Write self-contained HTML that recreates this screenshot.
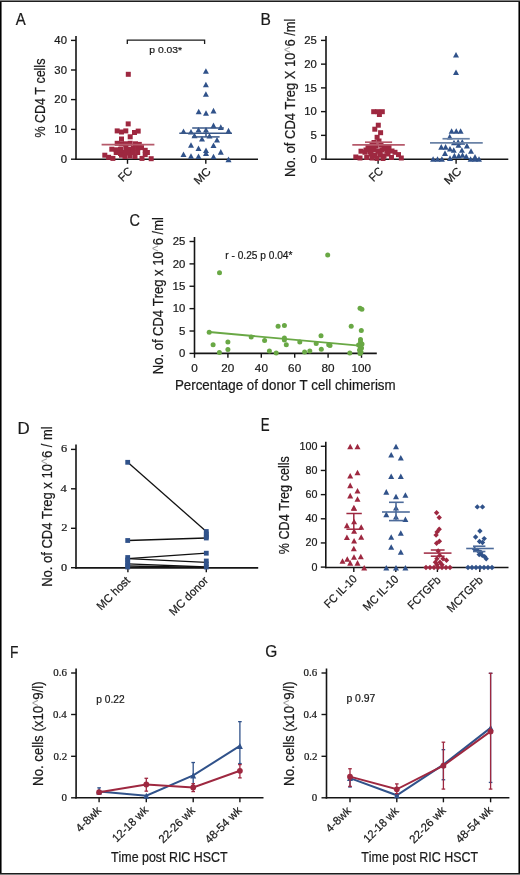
<!DOCTYPE html>
<html><head><meta charset="utf-8"><style>
html,body{margin:0;padding:0;background:#fff;}
body{width:520px;height:875px;overflow:hidden;position:relative;}
svg{position:absolute;left:0;top:0;display:block;font-family:"Liberation Sans", sans-serif;will-change:transform;}
text{font-kerning:none;stroke:#1a1a1a;stroke-width:0.22px;}
</style></head><body>
<svg width="520" height="875" viewBox="0 0 520 875">
<rect x="0" y="0" width="520" height="875" fill="#fff"/>
<text transform="translate(15.77,24.90) scale(0.8632,1)" font-family='"Liberation Sans", sans-serif' font-size="17.30" fill="#1a1a1a">A</text>
<text transform="translate(260.52,24.90) scale(0.9092,1)" font-family='"Liberation Sans", sans-serif' font-size="17.15" fill="#1a1a1a">B</text>
<text transform="translate(129.56,225.75) scale(0.8560,1)" font-family='"Liberation Sans", sans-serif' font-size="16.97" fill="#1a1a1a">C</text>
<text transform="translate(17.52,433.80) scale(0.9928,1)" font-family='"Liberation Sans", sans-serif' font-size="17.01" fill="#1a1a1a">D</text>
<text transform="translate(260.81,430.90) scale(0.7616,1)" font-family='"Liberation Sans", sans-serif' font-size="17.44" fill="#1a1a1a">E</text>
<text transform="translate(10.12,657.60) scale(0.7984,1)" font-family='"Liberation Sans", sans-serif' font-size="17.30" fill="#1a1a1a">F</text>
<text transform="translate(265.32,657.45) scale(0.9194,1)" font-family='"Liberation Sans", sans-serif' font-size="16.83" fill="#1a1a1a">G</text>
<line x1="76.00" y1="36.00" x2="76.00" y2="160.00" stroke="#151515" stroke-width="1.6"/>
<line x1="71.00" y1="40.40" x2="76.00" y2="40.40" stroke="#151515" stroke-width="1.4"/>
<text transform="translate(54.37,44.14) scale(1.0000,1)" font-family='"Liberation Sans", sans-serif' font-size="11.30" fill="#1a1a1a">40</text>
<line x1="71.00" y1="70.00" x2="76.00" y2="70.00" stroke="#151515" stroke-width="1.4"/>
<text transform="translate(54.37,73.74) scale(1.0000,1)" font-family='"Liberation Sans", sans-serif' font-size="11.30" fill="#1a1a1a">30</text>
<line x1="71.00" y1="99.60" x2="76.00" y2="99.60" stroke="#151515" stroke-width="1.4"/>
<text transform="translate(54.37,103.34) scale(1.0000,1)" font-family='"Liberation Sans", sans-serif' font-size="11.30" fill="#1a1a1a">20</text>
<line x1="71.00" y1="129.40" x2="76.00" y2="129.40" stroke="#151515" stroke-width="1.4"/>
<text transform="translate(54.37,133.14) scale(1.0000,1)" font-family='"Liberation Sans", sans-serif' font-size="11.30" fill="#1a1a1a">10</text>
<line x1="71.00" y1="159.20" x2="76.00" y2="159.20" stroke="#151515" stroke-width="1.4"/>
<text transform="translate(60.66,162.94) scale(1.0000,1)" font-family='"Liberation Sans", sans-serif' font-size="11.30" fill="#1a1a1a">0</text>
<line x1="75.20" y1="159.20" x2="258.00" y2="159.20" stroke="#151515" stroke-width="1.6"/>
<line x1="127.50" y1="159.20" x2="127.50" y2="163.80" stroke="#151515" stroke-width="1.4"/>
<line x1="205.80" y1="159.20" x2="205.80" y2="163.80" stroke="#151515" stroke-width="1.4"/>
<text transform="translate(122.87,182.25) rotate(-45) scale(0.9549,1)" font-family='"Liberation Sans", sans-serif' font-size="11.50" fill="#1a1a1a">FC</text>
<text transform="translate(198.49,185.28) rotate(-45) scale(1.0380,1)" font-family='"Liberation Sans", sans-serif' font-size="11.50" fill="#1a1a1a">MC</text>
<path d="M127.3,44 V40.2 H204.6 V44" fill="none" stroke="#1a1a1a" stroke-width="1.3"/>
<text transform="translate(149.33,53.20) scale(1.0795,1)" font-family='"Liberation Sans", sans-serif' font-size="9.60" fill="#1a1a1a">p 0.03*</text>
<text transform="translate(44.80,137.54) rotate(-90) scale(0.8373,1)" font-family='"Liberation Sans", sans-serif' font-size="14.89" fill="#1a1a1a">% CD4 T cells</text>
<rect x="125.80" y="71.80" width="5" height="5" fill="#9e2840"/>
<rect x="125.70" y="121.40" width="5" height="5" fill="#9e2840"/>
<rect x="114.70" y="128.40" width="5" height="5" fill="#9e2840"/>
<rect x="119.00" y="129.50" width="5" height="5" fill="#9e2840"/>
<rect x="123.30" y="128.40" width="5" height="5" fill="#9e2840"/>
<rect x="132.00" y="130.00" width="5" height="5" fill="#9e2840"/>
<rect x="135.70" y="128.60" width="5" height="5" fill="#9e2840"/>
<rect x="127.70" y="134.30" width="5" height="5" fill="#9e2840"/>
<rect x="119.00" y="136.50" width="5" height="5" fill="#9e2840"/>
<rect x="114.70" y="140.80" width="5" height="5" fill="#9e2840"/>
<rect x="119.00" y="141.30" width="5" height="5" fill="#9e2840"/>
<rect x="123.30" y="141.30" width="5" height="5" fill="#9e2840"/>
<rect x="127.70" y="140.80" width="5" height="5" fill="#9e2840"/>
<rect x="133.00" y="141.30" width="5" height="5" fill="#9e2840"/>
<rect x="136.80" y="141.90" width="5" height="5" fill="#9e2840"/>
<rect x="109.30" y="146.70" width="5" height="5" fill="#9e2840"/>
<rect x="113.70" y="147.30" width="5" height="5" fill="#9e2840"/>
<rect x="118.00" y="146.70" width="5" height="5" fill="#9e2840"/>
<rect x="123.30" y="145.10" width="5" height="5" fill="#9e2840"/>
<rect x="126.60" y="146.70" width="5" height="5" fill="#9e2840"/>
<rect x="130.90" y="145.70" width="5" height="5" fill="#9e2840"/>
<rect x="135.20" y="145.70" width="5" height="5" fill="#9e2840"/>
<rect x="139.00" y="145.10" width="5" height="5" fill="#9e2840"/>
<rect x="142.70" y="147.80" width="5" height="5" fill="#9e2840"/>
<rect x="144.90" y="150.00" width="5" height="5" fill="#9e2840"/>
<rect x="113.70" y="150.00" width="5" height="5" fill="#9e2840"/>
<rect x="118.00" y="151.00" width="5" height="5" fill="#9e2840"/>
<rect x="122.30" y="150.00" width="5" height="5" fill="#9e2840"/>
<rect x="126.60" y="150.50" width="5" height="5" fill="#9e2840"/>
<rect x="130.90" y="150.00" width="5" height="5" fill="#9e2840"/>
<rect x="135.20" y="150.00" width="5" height="5" fill="#9e2840"/>
<rect x="102.30" y="152.70" width="5" height="5" fill="#9e2840"/>
<rect x="106.10" y="154.80" width="5" height="5" fill="#9e2840"/>
<rect x="110.40" y="155.90" width="5" height="5" fill="#9e2840"/>
<rect x="119.00" y="152.70" width="5" height="5" fill="#9e2840"/>
<rect x="139.50" y="155.90" width="5" height="5" fill="#9e2840"/>
<rect x="148.70" y="156.20" width="5" height="5" fill="#9e2840"/>
<rect x="142.70" y="152.10" width="5" height="5" fill="#9e2840"/>
<rect x="122.50" y="154.00" width="5" height="5" fill="#9e2840"/>
<rect x="127.50" y="153.50" width="5" height="5" fill="#9e2840"/>
<rect x="132.50" y="154.00" width="5" height="5" fill="#9e2840"/>
<line x1="101.60" y1="144.70" x2="154.40" y2="144.70" stroke="#b65a6b" stroke-width="1.7"/>
<path d="M202.90,73.80L205.90,68.20L208.90,73.80Z" fill="#30528a"/>
<path d="M202.90,87.30L205.90,81.70L208.90,87.30Z" fill="#30528a"/>
<path d="M202.90,96.80L205.90,91.20L208.90,96.80Z" fill="#30528a"/>
<path d="M195.70,114.30L198.70,108.70L201.70,114.30Z" fill="#30528a"/>
<path d="M203.00,115.80L206.00,110.20L209.00,115.80Z" fill="#30528a"/>
<path d="M210.50,113.40L213.50,107.80L216.50,113.40Z" fill="#30528a"/>
<path d="M210.50,128.20L213.50,122.60L216.50,128.20Z" fill="#30528a"/>
<path d="M217.80,129.90L220.80,124.30L223.80,129.90Z" fill="#30528a"/>
<path d="M195.50,132.60L198.50,127.00L201.50,132.60Z" fill="#30528a"/>
<path d="M203.00,132.60L206.00,127.00L209.00,132.60Z" fill="#30528a"/>
<path d="M180.50,134.00L183.50,128.40L186.50,134.00Z" fill="#30528a"/>
<path d="M188.00,134.50L191.00,128.90L194.00,134.50Z" fill="#30528a"/>
<path d="M225.50,133.40L228.50,127.80L231.50,133.40Z" fill="#30528a"/>
<path d="M191.50,138.30L194.50,132.70L197.50,138.30Z" fill="#30528a"/>
<path d="M206.50,138.60L209.50,133.00L212.50,138.60Z" fill="#30528a"/>
<path d="M199.00,141.50L202.00,135.90L205.00,141.50Z" fill="#30528a"/>
<path d="M214.00,142.60L217.00,137.00L220.00,142.60Z" fill="#30528a"/>
<path d="M188.00,147.80L191.00,142.20L194.00,147.80Z" fill="#30528a"/>
<path d="M210.50,148.00L213.50,142.40L216.50,148.00Z" fill="#30528a"/>
<path d="M195.50,151.00L198.50,145.40L201.50,151.00Z" fill="#30528a"/>
<path d="M203.00,153.00L206.00,147.40L209.00,153.00Z" fill="#30528a"/>
<path d="M203.00,155.90L206.00,150.30L209.00,155.90Z" fill="#30528a"/>
<path d="M217.80,154.70L220.80,149.10L223.80,154.70Z" fill="#30528a"/>
<path d="M180.50,157.00L183.50,151.40L186.50,157.00Z" fill="#30528a"/>
<path d="M188.00,158.80L191.00,153.20L194.00,158.80Z" fill="#30528a"/>
<path d="M195.50,159.10L198.50,153.50L201.50,159.10Z" fill="#30528a"/>
<path d="M210.50,159.30L213.50,153.70L216.50,159.30Z" fill="#30528a"/>
<path d="M225.50,162.20L228.50,156.60L231.50,162.20Z" fill="#30528a"/>
<line x1="179.30" y1="133.30" x2="232.00" y2="133.30" stroke="#3a5888" stroke-width="1.6"/>
<line x1="192.20" y1="128.00" x2="223.90" y2="128.00" stroke="#3a5888" stroke-width="1.5"/>
<line x1="192.20" y1="136.90" x2="219.60" y2="136.90" stroke="#3a5888" stroke-width="1.5"/>
<line x1="206.00" y1="128.00" x2="206.00" y2="136.90" stroke="#3a5888" stroke-width="1.5"/>
<line x1="326.00" y1="36.00" x2="326.00" y2="160.00" stroke="#151515" stroke-width="1.6"/>
<line x1="321.00" y1="40.40" x2="326.00" y2="40.40" stroke="#151515" stroke-width="1.4"/>
<text transform="translate(304.31,44.14) scale(1.0000,1)" font-family='"Liberation Sans", sans-serif' font-size="11.30" fill="#1a1a1a">25</text>
<line x1="321.00" y1="64.14" x2="326.00" y2="64.14" stroke="#151515" stroke-width="1.4"/>
<text transform="translate(304.27,67.88) scale(1.0000,1)" font-family='"Liberation Sans", sans-serif' font-size="11.30" fill="#1a1a1a">20</text>
<line x1="321.00" y1="87.88" x2="326.00" y2="87.88" stroke="#151515" stroke-width="1.4"/>
<text transform="translate(304.13,91.62) scale(1.0000,1)" font-family='"Liberation Sans", sans-serif' font-size="11.47" fill="#1a1a1a">15</text>
<line x1="321.00" y1="111.62" x2="326.00" y2="111.62" stroke="#151515" stroke-width="1.4"/>
<text transform="translate(304.27,115.36) scale(1.0000,1)" font-family='"Liberation Sans", sans-serif' font-size="11.30" fill="#1a1a1a">10</text>
<line x1="321.00" y1="135.36" x2="326.00" y2="135.36" stroke="#151515" stroke-width="1.4"/>
<text transform="translate(310.50,139.10) scale(1.0000,1)" font-family='"Liberation Sans", sans-serif' font-size="11.47" fill="#1a1a1a">5</text>
<line x1="321.00" y1="159.10" x2="326.00" y2="159.10" stroke="#151515" stroke-width="1.4"/>
<text transform="translate(310.56,162.84) scale(1.0000,1)" font-family='"Liberation Sans", sans-serif' font-size="11.30" fill="#1a1a1a">0</text>
<line x1="325.20" y1="159.20" x2="508.30" y2="159.20" stroke="#151515" stroke-width="1.6"/>
<line x1="378.10" y1="159.20" x2="378.10" y2="163.80" stroke="#151515" stroke-width="1.4"/>
<line x1="456.10" y1="159.20" x2="456.10" y2="163.80" stroke="#151515" stroke-width="1.4"/>
<text transform="translate(373.50,182.27) rotate(-45) scale(0.9496,1)" font-family='"Liberation Sans", sans-serif' font-size="11.50" fill="#1a1a1a">FC</text>
<text transform="translate(448.75,185.37) rotate(-45) scale(1.0604,1)" font-family='"Liberation Sans", sans-serif' font-size="11.50" fill="#1a1a1a">MC</text>
<text transform="translate(294.90,177.06) rotate(-90) scale(0.8908,1)" font-family='"Liberation Sans", sans-serif' font-size="14.54" fill="#1a1a1a">No. of CD4 Treg X 10<tspan fill="#9a9a9a" style="stroke:none">^</tspan>6 /ml</text>
<rect x="371.20" y="109.20" width="5" height="5" fill="#9e2840"/>
<rect x="375.20" y="109.20" width="5" height="5" fill="#9e2840"/>
<rect x="379.80" y="109.20" width="5" height="5" fill="#9e2840"/>
<rect x="376.90" y="112.00" width="5" height="5" fill="#9e2840"/>
<rect x="375.80" y="122.70" width="5" height="5" fill="#9e2840"/>
<rect x="372.30" y="126.70" width="5" height="5" fill="#9e2840"/>
<rect x="378.10" y="130.20" width="5" height="5" fill="#9e2840"/>
<rect x="374.60" y="134.80" width="5" height="5" fill="#9e2840"/>
<rect x="376.50" y="138.50" width="5" height="5" fill="#9e2840"/>
<rect x="353.30" y="154.50" width="5" height="5" fill="#9e2840"/>
<rect x="358.50" y="148.70" width="5" height="5" fill="#9e2840"/>
<rect x="362.50" y="149.80" width="5" height="5" fill="#9e2840"/>
<rect x="366.00" y="146.30" width="5" height="5" fill="#9e2840"/>
<rect x="364.20" y="155.00" width="5" height="5" fill="#9e2840"/>
<rect x="392.50" y="149.80" width="5" height="5" fill="#9e2840"/>
<rect x="396.00" y="152.10" width="5" height="5" fill="#9e2840"/>
<rect x="398.80" y="155.50" width="5" height="5" fill="#9e2840"/>
<rect x="389.00" y="155.00" width="5" height="5" fill="#9e2840"/>
<rect x="384.40" y="148.70" width="5" height="5" fill="#9e2840"/>
<rect x="369.50" y="142.50" width="5" height="5" fill="#9e2840"/>
<rect x="373.50" y="143.50" width="5" height="5" fill="#9e2840"/>
<rect x="378.50" y="142.50" width="5" height="5" fill="#9e2840"/>
<rect x="382.50" y="144.50" width="5" height="5" fill="#9e2840"/>
<rect x="371.50" y="147.50" width="5" height="5" fill="#9e2840"/>
<rect x="375.50" y="148.50" width="5" height="5" fill="#9e2840"/>
<rect x="379.50" y="147.50" width="5" height="5" fill="#9e2840"/>
<rect x="368.50" y="151.50" width="5" height="5" fill="#9e2840"/>
<rect x="372.50" y="153.00" width="5" height="5" fill="#9e2840"/>
<rect x="377.50" y="152.50" width="5" height="5" fill="#9e2840"/>
<rect x="381.50" y="153.50" width="5" height="5" fill="#9e2840"/>
<rect x="385.50" y="151.50" width="5" height="5" fill="#9e2840"/>
<rect x="369.50" y="155.50" width="5" height="5" fill="#9e2840"/>
<rect x="374.50" y="156.00" width="5" height="5" fill="#9e2840"/>
<rect x="380.50" y="156.00" width="5" height="5" fill="#9e2840"/>
<rect x="357.50" y="155.50" width="5" height="5" fill="#9e2840"/>
<rect x="371.50" y="140.00" width="5" height="5" fill="#9e2840"/>
<rect x="386.50" y="144.50" width="5" height="5" fill="#9e2840"/>
<rect x="365.50" y="144.00" width="5" height="5" fill="#9e2840"/>
<rect x="369.50" y="145.50" width="5" height="5" fill="#9e2840"/>
<rect x="381.50" y="146.00" width="5" height="5" fill="#9e2840"/>
<rect x="385.50" y="147.50" width="5" height="5" fill="#9e2840"/>
<rect x="363.50" y="147.50" width="5" height="5" fill="#9e2840"/>
<rect x="367.50" y="149.50" width="5" height="5" fill="#9e2840"/>
<rect x="377.50" y="149.50" width="5" height="5" fill="#9e2840"/>
<rect x="389.50" y="148.50" width="5" height="5" fill="#9e2840"/>
<line x1="352.30" y1="144.80" x2="404.80" y2="144.80" stroke="#b65a6b" stroke-width="1.7"/>
<line x1="365.00" y1="142.20" x2="392.10" y2="142.20" stroke="#b65a6b" stroke-width="1.7"/>
<path d="M448.60,133.80L451.60,128.20L454.60,133.80Z" fill="#30528a"/>
<path d="M453.25,133.80L456.25,128.20L459.25,133.80Z" fill="#30528a"/>
<path d="M457.60,133.80L460.60,128.20L463.60,133.80Z" fill="#30528a"/>
<path d="M446.75,139.40L449.75,133.80L452.75,139.40Z" fill="#30528a"/>
<path d="M451.00,145.30L454.00,139.70L457.00,145.30Z" fill="#30528a"/>
<path d="M455.10,144.70L458.10,139.10L461.10,144.70Z" fill="#30528a"/>
<path d="M459.25,144.70L462.25,139.10L465.25,144.70Z" fill="#30528a"/>
<path d="M463.90,148.40L466.90,142.80L469.90,148.40Z" fill="#30528a"/>
<path d="M438.25,149.70L441.25,144.10L444.25,149.70Z" fill="#30528a"/>
<path d="M442.60,149.70L445.60,144.10L448.60,149.70Z" fill="#30528a"/>
<path d="M447.00,151.55L450.00,145.95L453.00,151.55Z" fill="#30528a"/>
<path d="M450.75,152.80L453.75,147.20L456.75,152.80Z" fill="#30528a"/>
<path d="M455.50,147.80L458.50,142.20L461.50,147.80Z" fill="#30528a"/>
<path d="M458.90,152.80L461.90,147.20L464.90,152.80Z" fill="#30528a"/>
<path d="M468.00,153.80L471.00,148.20L474.00,153.80Z" fill="#30528a"/>
<path d="M442.00,155.90L445.00,150.30L448.00,155.90Z" fill="#30528a"/>
<path d="M451.40,158.40L454.40,152.80L457.40,158.40Z" fill="#30528a"/>
<path d="M455.75,158.40L458.75,152.80L461.75,158.40Z" fill="#30528a"/>
<path d="M459.50,157.80L462.50,152.20L465.50,157.80Z" fill="#30528a"/>
<path d="M463.25,159.05L466.25,153.45L469.25,159.05Z" fill="#30528a"/>
<path d="M447.00,160.90L450.00,155.30L453.00,160.90Z" fill="#30528a"/>
<path d="M453.00,57.50L456.00,51.90L459.00,57.50Z" fill="#30528a"/>
<path d="M453.00,75.10L456.00,69.50L459.00,75.10Z" fill="#30528a"/>
<path d="M430.10,161.80L433.10,156.20L436.10,161.80Z" fill="#30528a"/>
<path d="M434.50,161.80L437.50,156.20L440.50,161.80Z" fill="#30528a"/>
<path d="M438.90,161.80L441.90,156.20L444.90,161.80Z" fill="#30528a"/>
<path d="M467.60,161.80L470.60,156.20L473.60,161.80Z" fill="#30528a"/>
<path d="M472.00,161.80L475.00,156.20L478.00,161.80Z" fill="#30528a"/>
<path d="M476.00,161.80L479.00,156.20L482.00,161.80Z" fill="#30528a"/>
<path d="M472.00,159.70L475.00,154.10L478.00,159.70Z" fill="#30528a"/>
<line x1="430.00" y1="142.90" x2="482.75" y2="142.90" stroke="#6a82a6" stroke-width="1.7"/>
<line x1="442.50" y1="138.75" x2="469.75" y2="138.75" stroke="#6a82a6" stroke-width="1.7"/>
<line x1="194.50" y1="237.00" x2="194.50" y2="354.20" stroke="#151515" stroke-width="1.6"/>
<line x1="189.50" y1="241.50" x2="194.50" y2="241.50" stroke="#151515" stroke-width="1.4"/>
<text transform="translate(172.71,245.24) scale(1.0000,1)" font-family='"Liberation Sans", sans-serif' font-size="11.30" fill="#1a1a1a">25</text>
<line x1="189.50" y1="263.88" x2="194.50" y2="263.88" stroke="#151515" stroke-width="1.4"/>
<text transform="translate(172.67,267.62) scale(1.0000,1)" font-family='"Liberation Sans", sans-serif' font-size="11.30" fill="#1a1a1a">20</text>
<line x1="189.50" y1="286.26" x2="194.50" y2="286.26" stroke="#151515" stroke-width="1.4"/>
<text transform="translate(172.53,290.00) scale(1.0000,1)" font-family='"Liberation Sans", sans-serif' font-size="11.47" fill="#1a1a1a">15</text>
<line x1="189.50" y1="308.64" x2="194.50" y2="308.64" stroke="#151515" stroke-width="1.4"/>
<text transform="translate(172.67,312.38) scale(1.0000,1)" font-family='"Liberation Sans", sans-serif' font-size="11.30" fill="#1a1a1a">10</text>
<line x1="189.50" y1="331.02" x2="194.50" y2="331.02" stroke="#151515" stroke-width="1.4"/>
<text transform="translate(178.90,334.76) scale(1.0000,1)" font-family='"Liberation Sans", sans-serif' font-size="11.47" fill="#1a1a1a">5</text>
<line x1="189.50" y1="353.40" x2="194.50" y2="353.40" stroke="#151515" stroke-width="1.4"/>
<text transform="translate(178.96,357.14) scale(1.0000,1)" font-family='"Liberation Sans", sans-serif' font-size="11.30" fill="#1a1a1a">0</text>
<line x1="194.50" y1="353.40" x2="376.80" y2="353.40" stroke="#151515" stroke-width="1.6"/>
<line x1="194.50" y1="353.40" x2="194.50" y2="357.80" stroke="#151515" stroke-width="1.4"/>
<text transform="translate(191.24,372.39) scale(1.0000,1)" font-family='"Liberation Sans", sans-serif' font-size="11.72" fill="#1a1a1a">0</text>
<line x1="227.90" y1="353.40" x2="227.90" y2="357.80" stroke="#151515" stroke-width="1.4"/>
<text transform="translate(221.31,372.39) scale(1.0000,1)" font-family='"Liberation Sans", sans-serif' font-size="11.72" fill="#1a1a1a">20</text>
<line x1="261.30" y1="353.40" x2="261.30" y2="357.80" stroke="#151515" stroke-width="1.4"/>
<text transform="translate(254.87,372.39) scale(1.0000,1)" font-family='"Liberation Sans", sans-serif' font-size="11.72" fill="#1a1a1a">40</text>
<line x1="294.70" y1="353.40" x2="294.70" y2="357.80" stroke="#151515" stroke-width="1.4"/>
<text transform="translate(288.11,372.39) scale(1.0000,1)" font-family='"Liberation Sans", sans-serif' font-size="11.72" fill="#1a1a1a">60</text>
<line x1="328.10" y1="353.40" x2="328.10" y2="357.80" stroke="#151515" stroke-width="1.4"/>
<text transform="translate(321.55,372.39) scale(1.0000,1)" font-family='"Liberation Sans", sans-serif' font-size="11.72" fill="#1a1a1a">80</text>
<line x1="361.50" y1="353.40" x2="361.50" y2="357.80" stroke="#151515" stroke-width="1.4"/>
<text transform="translate(351.50,372.39) scale(1.0000,1)" font-family='"Liberation Sans", sans-serif' font-size="11.72" fill="#1a1a1a">100</text>
<text transform="translate(174.91,389.90) scale(0.9371,1)" font-family='"Liberation Sans", sans-serif' font-size="14.24" fill="#1a1a1a">Percentage of donor T cell chimerism</text>
<text transform="translate(163.40,374.17) rotate(-90) scale(0.9036,1)" font-family='"Liberation Sans", sans-serif' font-size="14.39" fill="#1a1a1a">No. of CD4 Treg x 10<tspan fill="#9a9a9a" style="stroke:none">^</tspan>6 /ml</text>
<text transform="translate(225.33,259.30) scale(1.0138,1)" font-family='"Liberation Sans", sans-serif' font-size="10.03" fill="#1a1a1a">r - 0.25 p 0.04*</text>
<line x1="209.20" y1="332.00" x2="356.50" y2="345.40" stroke="#69a845" stroke-width="1.8"/>
<circle cx="219.50" cy="272.80" r="2.5" fill="#69a845"/>
<circle cx="209.20" cy="332.30" r="2.5" fill="#69a845"/>
<circle cx="213.10" cy="344.80" r="2.5" fill="#69a845"/>
<circle cx="219.40" cy="352.50" r="2.5" fill="#69a845"/>
<circle cx="227.90" cy="341.90" r="2.5" fill="#69a845"/>
<circle cx="227.90" cy="349.60" r="2.5" fill="#69a845"/>
<circle cx="251.20" cy="337.10" r="2.5" fill="#69a845"/>
<circle cx="264.60" cy="340.40" r="2.5" fill="#69a845"/>
<circle cx="269.40" cy="351.00" r="2.5" fill="#69a845"/>
<circle cx="276.20" cy="353.10" r="2.5" fill="#69a845"/>
<circle cx="278.10" cy="326.20" r="2.5" fill="#69a845"/>
<circle cx="284.40" cy="325.60" r="2.5" fill="#69a845"/>
<circle cx="284.40" cy="338.00" r="2.5" fill="#69a845"/>
<circle cx="284.40" cy="340.00" r="2.5" fill="#69a845"/>
<circle cx="286.30" cy="344.80" r="2.5" fill="#69a845"/>
<circle cx="299.80" cy="342.00" r="2.5" fill="#69a845"/>
<circle cx="304.60" cy="352.00" r="2.5" fill="#69a845"/>
<circle cx="309.80" cy="351.00" r="2.5" fill="#69a845"/>
<circle cx="316.20" cy="343.50" r="2.5" fill="#69a845"/>
<circle cx="321.00" cy="335.80" r="2.5" fill="#69a845"/>
<circle cx="321.30" cy="349.20" r="2.5" fill="#69a845"/>
<circle cx="328.70" cy="344.80" r="2.5" fill="#69a845"/>
<circle cx="330.00" cy="345.40" r="2.5" fill="#69a845"/>
<circle cx="327.70" cy="255.00" r="2.5" fill="#69a845"/>
<circle cx="349.80" cy="353.00" r="2.5" fill="#69a845"/>
<circle cx="351.20" cy="326.20" r="2.5" fill="#69a845"/>
<circle cx="360.00" cy="308.30" r="2.5" fill="#69a845"/>
<circle cx="361.90" cy="309.20" r="2.5" fill="#69a845"/>
<circle cx="361.30" cy="330.40" r="2.5" fill="#69a845"/>
<circle cx="360.50" cy="339.60" r="2.5" fill="#69a845"/>
<circle cx="360.50" cy="342.00" r="2.5" fill="#69a845"/>
<circle cx="360.00" cy="346.00" r="2.5" fill="#69a845"/>
<circle cx="361.50" cy="348.00" r="2.5" fill="#69a845"/>
<circle cx="359.50" cy="350.00" r="2.5" fill="#69a845"/>
<circle cx="361.00" cy="352.00" r="2.5" fill="#69a845"/>
<circle cx="360.00" cy="353.50" r="2.5" fill="#69a845"/>
<circle cx="362.00" cy="344.00" r="2.5" fill="#69a845"/>
<circle cx="358.50" cy="345.00" r="2.5" fill="#69a845"/>
<line x1="76.00" y1="444.60" x2="76.00" y2="568.70" stroke="#151515" stroke-width="1.6"/>
<line x1="71.00" y1="449.40" x2="76.00" y2="449.40" stroke="#151515" stroke-width="1.4"/>
<text transform="translate(60.90,452.39) scale(1.1200,1)" font-family='"Liberation Serif", serif' font-size="11.01" fill="#1a1a1a">6</text>
<line x1="71.00" y1="488.80" x2="76.00" y2="488.80" stroke="#151515" stroke-width="1.4"/>
<text transform="translate(60.60,491.90) scale(1.1200,1)" font-family='"Liberation Serif", serif' font-size="11.24" fill="#1a1a1a">4</text>
<line x1="71.00" y1="528.30" x2="76.00" y2="528.30" stroke="#151515" stroke-width="1.4"/>
<text transform="translate(61.13,531.40) scale(1.1200,1)" font-family='"Liberation Serif", serif' font-size="11.18" fill="#1a1a1a">2</text>
<line x1="71.00" y1="567.70" x2="76.00" y2="567.70" stroke="#151515" stroke-width="1.4"/>
<text transform="translate(61.03,570.69) scale(1.1200,1)" font-family='"Liberation Serif", serif' font-size="10.97" fill="#1a1a1a">0</text>
<line x1="75.20" y1="567.90" x2="258.20" y2="567.90" stroke="#151515" stroke-width="1.6"/>
<line x1="127.90" y1="567.90" x2="127.90" y2="572.30" stroke="#151515" stroke-width="1.4"/>
<line x1="206.30" y1="567.90" x2="206.30" y2="572.30" stroke="#151515" stroke-width="1.4"/>
<text transform="translate(101.36,610.66) rotate(-45) scale(0.9716,1)" font-family='"Liberation Sans", sans-serif' font-size="11.50" fill="#1a1a1a">MC host</text>
<text transform="translate(173.87,616.18) rotate(-45) scale(0.9834,1)" font-family='"Liberation Sans", sans-serif' font-size="11.50" fill="#1a1a1a">MC donor</text>
<text transform="translate(52.30,586.87) rotate(-90) scale(0.8851,1)" font-family='"Liberation Sans", sans-serif' font-size="14.68" fill="#1a1a1a">No. of CD4 Treg x 10<tspan fill="#9a9a9a" style="stroke:none">^</tspan>6 / ml</text>
<line x1="127.70" y1="462.30" x2="206.30" y2="531.50" stroke="#111" stroke-width="1.3"/>
<line x1="127.70" y1="540.50" x2="206.30" y2="538.00" stroke="#111" stroke-width="1.3"/>
<line x1="127.70" y1="558.70" x2="206.30" y2="553.20" stroke="#111" stroke-width="1.3"/>
<line x1="127.70" y1="558.70" x2="206.30" y2="562.30" stroke="#111" stroke-width="1.3"/>
<line x1="127.70" y1="563.80" x2="206.30" y2="567.00" stroke="#111" stroke-width="1.3"/>
<line x1="127.70" y1="566.00" x2="206.30" y2="567.50" stroke="#111" stroke-width="1.3"/>
<rect x="125.30" y="459.90" width="4.8" height="4.8" fill="#30528a"/>
<rect x="125.30" y="538.10" width="4.8" height="4.8" fill="#30528a"/>
<rect x="125.30" y="555.10" width="4.8" height="4.8" fill="#30528a"/>
<rect x="125.30" y="557.60" width="4.8" height="4.8" fill="#30528a"/>
<rect x="125.30" y="560.10" width="4.8" height="4.8" fill="#30528a"/>
<rect x="125.30" y="562.60" width="4.8" height="4.8" fill="#30528a"/>
<rect x="125.30" y="564.60" width="4.8" height="4.8" fill="#30528a"/>
<rect x="203.90" y="529.10" width="4.8" height="4.8" fill="#30528a"/>
<rect x="203.90" y="531.60" width="4.8" height="4.8" fill="#30528a"/>
<rect x="203.90" y="534.10" width="4.8" height="4.8" fill="#30528a"/>
<rect x="203.90" y="535.60" width="4.8" height="4.8" fill="#30528a"/>
<rect x="203.90" y="550.80" width="4.8" height="4.8" fill="#30528a"/>
<rect x="203.90" y="558.60" width="4.8" height="4.8" fill="#30528a"/>
<rect x="203.90" y="561.60" width="4.8" height="4.8" fill="#30528a"/>
<rect x="203.90" y="564.60" width="4.8" height="4.8" fill="#30528a"/>
<line x1="325.80" y1="441.70" x2="325.80" y2="568.30" stroke="#151515" stroke-width="1.6"/>
<line x1="320.80" y1="446.30" x2="325.80" y2="446.30" stroke="#151515" stroke-width="1.4"/>
<text transform="translate(299.51,449.70) scale(1.0000,1)" font-family='"Liberation Sans", sans-serif' font-size="10.73" fill="#1a1a1a">100</text>
<line x1="320.80" y1="470.46" x2="325.80" y2="470.46" stroke="#151515" stroke-width="1.4"/>
<text transform="translate(305.48,473.86) scale(1.0000,1)" font-family='"Liberation Sans", sans-serif' font-size="10.73" fill="#1a1a1a">80</text>
<line x1="320.80" y1="494.62" x2="325.80" y2="494.62" stroke="#151515" stroke-width="1.4"/>
<text transform="translate(305.48,498.02) scale(1.0000,1)" font-family='"Liberation Sans", sans-serif' font-size="10.73" fill="#1a1a1a">60</text>
<line x1="320.80" y1="518.78" x2="325.80" y2="518.78" stroke="#151515" stroke-width="1.4"/>
<text transform="translate(305.48,522.18) scale(1.0000,1)" font-family='"Liberation Sans", sans-serif' font-size="10.73" fill="#1a1a1a">40</text>
<line x1="320.80" y1="542.94" x2="325.80" y2="542.94" stroke="#151515" stroke-width="1.4"/>
<text transform="translate(305.48,546.34) scale(1.0000,1)" font-family='"Liberation Sans", sans-serif' font-size="10.73" fill="#1a1a1a">20</text>
<line x1="320.80" y1="567.10" x2="325.80" y2="567.10" stroke="#151515" stroke-width="1.4"/>
<text transform="translate(311.45,570.50) scale(1.0000,1)" font-family='"Liberation Sans", sans-serif' font-size="10.73" fill="#1a1a1a">0</text>
<line x1="325.00" y1="567.50" x2="508.50" y2="567.50" stroke="#151515" stroke-width="1.6"/>
<line x1="353.80" y1="567.50" x2="353.80" y2="572.00" stroke="#151515" stroke-width="1.4"/>
<line x1="395.80" y1="567.50" x2="395.80" y2="572.00" stroke="#151515" stroke-width="1.4"/>
<line x1="437.40" y1="567.50" x2="437.40" y2="572.00" stroke="#151515" stroke-width="1.4"/>
<line x1="479.80" y1="567.50" x2="479.80" y2="572.00" stroke="#151515" stroke-width="1.4"/>
<text transform="translate(328.72,608.65) rotate(-45) scale(0.9161,1)" font-family='"Liberation Sans", sans-serif' font-size="11.50" fill="#1a1a1a">FC IL-10</text>
<text transform="translate(367.52,611.59) rotate(-45) scale(0.9475,1)" font-family='"Liberation Sans", sans-serif' font-size="11.50" fill="#1a1a1a">MC IL-10</text>
<text transform="translate(412.16,610.00) rotate(-45) scale(0.9228,1)" font-family='"Liberation Sans", sans-serif' font-size="11.50" fill="#1a1a1a">FCTGFb</text>
<text transform="translate(451.43,613.02) rotate(-45) scale(0.9616,1)" font-family='"Liberation Sans", sans-serif' font-size="11.50" fill="#1a1a1a">MCTGFb</text>
<text transform="translate(288.80,554.25) rotate(-90) scale(0.9181,1)" font-family='"Liberation Sans", sans-serif' font-size="13.75" fill="#1a1a1a">% CD4 Treg cells</text>
<path d="M347.20,449.30L350.20,443.70L353.20,449.30Z" fill="#9e2840"/>
<path d="M354.50,449.30L357.50,443.70L360.50,449.30Z" fill="#9e2840"/>
<path d="M354.50,475.30L357.50,469.70L360.50,475.30Z" fill="#9e2840"/>
<path d="M347.20,478.60L350.20,473.00L353.20,478.60Z" fill="#9e2840"/>
<path d="M347.20,488.20L350.20,482.60L353.20,488.20Z" fill="#9e2840"/>
<path d="M354.50,493.60L357.50,488.00L360.50,493.60Z" fill="#9e2840"/>
<path d="M347.20,498.40L350.20,492.80L353.20,498.40Z" fill="#9e2840"/>
<path d="M354.50,501.80L357.50,496.20L360.50,501.80Z" fill="#9e2840"/>
<path d="M350.80,510.50L353.80,504.90L356.80,510.50Z" fill="#9e2840"/>
<path d="M351.10,510.80L354.10,505.20L357.10,510.80Z" fill="#9e2840"/>
<path d="M351.10,524.30L354.10,518.70L357.10,524.30Z" fill="#9e2840"/>
<path d="M343.90,528.20L346.90,522.60L349.90,528.20Z" fill="#9e2840"/>
<path d="M358.20,529.80L361.20,524.20L364.20,529.80Z" fill="#9e2840"/>
<path d="M351.10,533.80L354.10,528.20L357.10,533.80Z" fill="#9e2840"/>
<path d="M343.90,540.10L346.90,534.50L349.90,540.10Z" fill="#9e2840"/>
<path d="M358.20,539.80L361.20,534.20L364.20,539.80Z" fill="#9e2840"/>
<path d="M351.10,543.60L354.10,538.00L357.10,543.60Z" fill="#9e2840"/>
<path d="M350.80,551.30L353.80,545.70L356.80,551.30Z" fill="#9e2840"/>
<path d="M339.50,563.80L342.50,558.20L345.50,563.80Z" fill="#9e2840"/>
<path d="M344.30,561.80L347.30,556.20L350.30,561.80Z" fill="#9e2840"/>
<path d="M351.00,559.80L354.00,554.20L357.00,559.80Z" fill="#9e2840"/>
<path d="M357.80,559.30L360.80,553.70L363.80,559.30Z" fill="#9e2840"/>
<path d="M347.20,565.70L350.20,560.10L353.20,565.70Z" fill="#9e2840"/>
<path d="M354.50,565.70L357.50,560.10L360.50,565.70Z" fill="#9e2840"/>
<path d="M361.20,570.50L364.20,564.90L367.20,570.50Z" fill="#9e2840"/>
<line x1="346.40" y1="513.50" x2="361.80" y2="513.50" stroke="#9e2840" stroke-width="1.5"/>
<line x1="346.40" y1="529.20" x2="361.80" y2="529.20" stroke="#9e2840" stroke-width="1.5"/>
<line x1="353.80" y1="513.50" x2="353.80" y2="529.20" stroke="#9e2840" stroke-width="1.5"/>
<path d="M393.00,449.30L396.00,443.70L399.00,449.30Z" fill="#30528a"/>
<path d="M388.20,457.60L391.20,452.00L394.20,457.60Z" fill="#30528a"/>
<path d="M397.80,460.50L400.80,454.90L403.80,460.50Z" fill="#30528a"/>
<path d="M388.20,479.10L391.20,473.50L394.20,479.10Z" fill="#30528a"/>
<path d="M397.80,479.10L400.80,473.50L403.80,479.10Z" fill="#30528a"/>
<path d="M383.30,494.70L386.30,489.10L389.30,494.70Z" fill="#30528a"/>
<path d="M393.00,499.30L396.00,493.70L399.00,499.30Z" fill="#30528a"/>
<path d="M402.40,497.80L405.40,492.20L408.40,497.80Z" fill="#30528a"/>
<path d="M393.00,510.50L396.00,504.90L399.00,510.50Z" fill="#30528a"/>
<path d="M383.30,517.20L386.30,511.60L389.30,517.20Z" fill="#30528a"/>
<path d="M393.00,519.50L396.00,513.90L399.00,519.50Z" fill="#30528a"/>
<path d="M402.40,522.00L405.40,516.40L408.40,522.00Z" fill="#30528a"/>
<path d="M397.80,535.80L400.80,530.20L403.80,535.80Z" fill="#30528a"/>
<path d="M388.20,539.80L391.20,534.20L394.20,539.80Z" fill="#30528a"/>
<path d="M388.20,549.80L391.20,544.20L394.20,549.80Z" fill="#30528a"/>
<path d="M397.80,554.80L400.80,549.20L403.80,554.80Z" fill="#30528a"/>
<path d="M383.30,570.50L386.30,564.90L389.30,570.50Z" fill="#30528a"/>
<path d="M393.00,570.50L396.00,564.90L399.00,570.50Z" fill="#30528a"/>
<path d="M402.40,570.50L405.40,564.90L408.40,570.50Z" fill="#30528a"/>
<line x1="382.00" y1="512.00" x2="409.80" y2="512.00" stroke="#4d6b9a" stroke-width="1.6"/>
<line x1="389.00" y1="502.30" x2="403.70" y2="502.30" stroke="#4d6b9a" stroke-width="1.6"/>
<line x1="389.00" y1="520.60" x2="403.70" y2="520.60" stroke="#4d6b9a" stroke-width="1.6"/>
<line x1="396.00" y1="502.30" x2="396.00" y2="520.60" stroke="#4d6b9a" stroke-width="1.6"/>
<path d="M433.90,512.80L436.60,510.10L439.30,512.80L436.60,515.50Z" fill="#9e2840"/>
<path d="M436.50,517.50L439.20,514.80L441.90,517.50L439.20,520.20Z" fill="#9e2840"/>
<path d="M436.50,529.30L439.20,526.60L441.90,529.30L439.20,532.00Z" fill="#9e2840"/>
<path d="M434.40,531.90L437.10,529.20L439.80,531.90L437.10,534.60Z" fill="#9e2840"/>
<path d="M433.40,535.10L436.10,532.40L438.80,535.10L436.10,537.80Z" fill="#9e2840"/>
<path d="M436.70,541.20L439.40,538.50L442.10,541.20L439.40,543.90Z" fill="#9e2840"/>
<path d="M433.90,543.20L436.60,540.50L439.30,543.20L436.60,545.90Z" fill="#9e2840"/>
<path d="M435.50,551.00L438.20,548.30L440.90,551.00L438.20,553.70Z" fill="#9e2840"/>
<path d="M437.00,555.40L439.70,552.70L442.40,555.40L439.70,558.10Z" fill="#9e2840"/>
<path d="M434.20,558.80L436.90,556.10L439.60,558.80L436.90,561.50Z" fill="#9e2840"/>
<path d="M440.30,558.80L443.00,556.10L445.70,558.80L443.00,561.50Z" fill="#9e2840"/>
<path d="M443.80,560.30L446.50,557.60L449.20,560.30L446.50,563.00Z" fill="#9e2840"/>
<path d="M432.70,562.30L435.40,559.60L438.10,562.30L435.40,565.00Z" fill="#9e2840"/>
<path d="M437.30,562.30L440.00,559.60L442.70,562.30L440.00,565.00Z" fill="#9e2840"/>
<path d="M434.30,564.80L437.00,562.10L439.70,564.80L437.00,567.50Z" fill="#9e2840"/>
<path d="M439.30,564.80L442.00,562.10L444.70,564.80L442.00,567.50Z" fill="#9e2840"/>
<path d="M423.30,567.50L426.00,564.80L428.70,567.50L426.00,570.20Z" fill="#9e2840"/>
<path d="M427.30,567.50L430.00,564.80L432.70,567.50L430.00,570.20Z" fill="#9e2840"/>
<path d="M431.30,567.50L434.00,564.80L436.70,567.50L434.00,570.20Z" fill="#9e2840"/>
<path d="M435.30,567.50L438.00,564.80L440.70,567.50L438.00,570.20Z" fill="#9e2840"/>
<path d="M439.30,567.50L442.00,564.80L444.70,567.50L442.00,570.20Z" fill="#9e2840"/>
<path d="M443.30,567.50L446.00,564.80L448.70,567.50L446.00,570.20Z" fill="#9e2840"/>
<path d="M447.30,567.50L450.00,564.80L452.70,567.50L450.00,570.20Z" fill="#9e2840"/>
<line x1="423.80" y1="553.10" x2="451.50" y2="553.10" stroke="#9e2840" stroke-width="1.5"/>
<line x1="430.80" y1="550.00" x2="444.60" y2="550.00" stroke="#9e2840" stroke-width="1.5"/>
<line x1="430.80" y1="556.20" x2="444.60" y2="556.20" stroke="#9e2840" stroke-width="1.5"/>
<path d="M474.60,506.90L477.30,504.20L480.00,506.90L477.30,509.60Z" fill="#30528a"/>
<path d="M479.80,506.90L482.50,504.20L485.20,506.90L482.50,509.60Z" fill="#30528a"/>
<path d="M477.20,531.00L479.90,528.30L482.60,531.00L479.90,533.70Z" fill="#30528a"/>
<path d="M472.90,537.00L475.60,534.30L478.30,537.00L475.60,539.70Z" fill="#30528a"/>
<path d="M481.50,538.60L484.20,535.90L486.90,538.60L484.20,541.30Z" fill="#30528a"/>
<path d="M476.80,541.50L479.50,538.80L482.20,541.50L479.50,544.20Z" fill="#30528a"/>
<path d="M479.80,542.50L482.50,539.80L485.20,542.50L482.50,545.20Z" fill="#30528a"/>
<path d="M471.90,549.20L474.60,546.50L477.30,549.20L474.60,551.90Z" fill="#30528a"/>
<path d="M475.00,550.50L477.70,547.80L480.40,550.50L477.70,553.20Z" fill="#30528a"/>
<path d="M478.10,552.30L480.80,549.60L483.50,552.30L480.80,555.00Z" fill="#30528a"/>
<path d="M476.50,554.60L479.20,551.90L481.90,554.60L479.20,557.30Z" fill="#30528a"/>
<path d="M479.60,555.40L482.30,552.70L485.00,555.40L482.30,558.10Z" fill="#30528a"/>
<path d="M481.90,556.60L484.60,553.90L487.30,556.60L484.60,559.30Z" fill="#30528a"/>
<path d="M483.50,558.80L486.20,556.10L488.90,558.80L486.20,561.50Z" fill="#30528a"/>
<path d="M465.30,567.50L468.00,564.80L470.70,567.50L468.00,570.20Z" fill="#30528a"/>
<path d="M469.30,567.50L472.00,564.80L474.70,567.50L472.00,570.20Z" fill="#30528a"/>
<path d="M473.30,567.50L476.00,564.80L478.70,567.50L476.00,570.20Z" fill="#30528a"/>
<path d="M477.30,567.50L480.00,564.80L482.70,567.50L480.00,570.20Z" fill="#30528a"/>
<path d="M481.30,567.50L484.00,564.80L486.70,567.50L484.00,570.20Z" fill="#30528a"/>
<path d="M485.30,567.50L488.00,564.80L490.70,567.50L488.00,570.20Z" fill="#30528a"/>
<path d="M489.30,567.50L492.00,564.80L494.70,567.50L492.00,570.20Z" fill="#30528a"/>
<line x1="466.20" y1="548.50" x2="493.80" y2="548.50" stroke="#4d6b9a" stroke-width="1.6"/>
<line x1="473.00" y1="546.20" x2="485.40" y2="546.20" stroke="#4d6b9a" stroke-width="1.6"/>
<line x1="473.00" y1="551.50" x2="485.40" y2="551.50" stroke="#4d6b9a" stroke-width="1.6"/>
<line x1="76.10" y1="668.50" x2="76.10" y2="798.60" stroke="#151515" stroke-width="1.6"/>
<line x1="71.10" y1="673.00" x2="76.10" y2="673.00" stroke="#151515" stroke-width="1.4"/>
<text transform="translate(53.21,676.25) scale(1.0000,1)" font-family='"Liberation Serif", serif' font-size="10.90" fill="#1a1a1a">0.6</text>
<line x1="71.10" y1="714.50" x2="76.10" y2="714.50" stroke="#151515" stroke-width="1.4"/>
<text transform="translate(53.05,717.75) scale(1.0000,1)" font-family='"Liberation Serif", serif' font-size="10.90" fill="#1a1a1a">0.4</text>
<line x1="71.10" y1="756.30" x2="76.10" y2="756.30" stroke="#151515" stroke-width="1.4"/>
<text transform="translate(53.48,759.55) scale(1.0000,1)" font-family='"Liberation Serif", serif' font-size="10.90" fill="#1a1a1a">0.2</text>
<line x1="71.10" y1="797.80" x2="76.10" y2="797.80" stroke="#151515" stroke-width="1.4"/>
<text transform="translate(61.43,801.09) scale(1.0000,1)" font-family='"Liberation Serif", serif' font-size="10.97" fill="#1a1a1a">0</text>
<line x1="75.30" y1="797.80" x2="263.50" y2="797.80" stroke="#151515" stroke-width="1.6"/>
<line x1="99.10" y1="797.80" x2="99.10" y2="802.30" stroke="#151515" stroke-width="1.4"/>
<line x1="146.30" y1="797.80" x2="146.30" y2="802.30" stroke="#151515" stroke-width="1.4"/>
<line x1="193.20" y1="797.80" x2="193.20" y2="802.30" stroke="#151515" stroke-width="1.4"/>
<line x1="239.90" y1="797.80" x2="239.90" y2="802.30" stroke="#151515" stroke-width="1.4"/>
<text transform="translate(80.19,832.81) rotate(-45) scale(1.0024,1)" font-family='"Liberation Sans", sans-serif' font-size="11.50" fill="#1a1a1a">4-8wk</text>
<text transform="translate(116.87,842.85) rotate(-45) scale(0.9721,1)" font-family='"Liberation Sans", sans-serif' font-size="11.50" fill="#1a1a1a">12-18 wk</text>
<text transform="translate(163.20,843.80) rotate(-45) scale(0.9846,1)" font-family='"Liberation Sans", sans-serif' font-size="11.50" fill="#1a1a1a">22-26 wk</text>
<text transform="translate(209.54,843.92) rotate(-45) scale(0.9934,1)" font-family='"Liberation Sans", sans-serif' font-size="11.50" fill="#1a1a1a">48-54 wk</text>
<text transform="translate(96.34,702.50) scale(0.9896,1)" font-family='"Liberation Sans", sans-serif' font-size="10.31" fill="#1a1a1a">p 0.22</text>
<text transform="translate(43.10,785.88) rotate(-90) scale(0.8904,1)" font-family='"Liberation Sans", sans-serif' font-size="14.83" fill="#1a1a1a">No. cells (x10<tspan fill="#9a9a9a" style="stroke:none">^</tspan>9/l)</text>
<text transform="translate(110.92,861.90) scale(0.8919,1)" font-family='"Liberation Sans", sans-serif' font-size="13.95" fill="#1a1a1a">Time post RIC HSCT</text>
<line x1="99.10" y1="791.57" x2="99.10" y2="787.84" stroke="#30528a" stroke-width="1.3"/>
<line x1="97.30" y1="791.57" x2="100.90" y2="791.57" stroke="#30528a" stroke-width="1.3"/>
<line x1="97.30" y1="787.84" x2="100.90" y2="787.84" stroke="#30528a" stroke-width="1.3"/>
<line x1="146.30" y1="795.72" x2="146.30" y2="795.72" stroke="#30528a" stroke-width="1.3"/>
<line x1="144.50" y1="795.72" x2="148.10" y2="795.72" stroke="#30528a" stroke-width="1.3"/>
<line x1="144.50" y1="795.72" x2="148.10" y2="795.72" stroke="#30528a" stroke-width="1.3"/>
<line x1="193.20" y1="787.42" x2="193.20" y2="762.52" stroke="#30528a" stroke-width="1.3"/>
<line x1="191.40" y1="787.42" x2="195.00" y2="787.42" stroke="#30528a" stroke-width="1.3"/>
<line x1="191.40" y1="762.52" x2="195.00" y2="762.52" stroke="#30528a" stroke-width="1.3"/>
<line x1="239.90" y1="763.56" x2="239.90" y2="721.65" stroke="#30528a" stroke-width="1.3"/>
<line x1="238.10" y1="763.56" x2="241.70" y2="763.56" stroke="#30528a" stroke-width="1.3"/>
<line x1="238.10" y1="721.65" x2="241.70" y2="721.65" stroke="#30528a" stroke-width="1.3"/>
<polyline points="99.1,791.6 146.3,795.7 193.2,775.4 239.9,745.9" fill="none" stroke="#30528a" stroke-width="2"/>
<path d="M96.10,794.57L99.10,788.57L102.10,794.57Z" fill="#30528a"/>
<path d="M143.30,798.72L146.30,792.72L149.30,798.72Z" fill="#30528a"/>
<path d="M190.20,778.39L193.20,772.39L196.20,778.39Z" fill="#30528a"/>
<path d="M236.90,748.92L239.90,742.92L242.90,748.92Z" fill="#30528a"/>
<line x1="99.10" y1="792.20" x2="99.10" y2="792.20" stroke="#9e2840" stroke-width="1.3"/>
<line x1="97.30" y1="792.20" x2="100.90" y2="792.20" stroke="#9e2840" stroke-width="1.3"/>
<line x1="97.30" y1="792.20" x2="100.90" y2="792.20" stroke="#9e2840" stroke-width="1.3"/>
<line x1="146.30" y1="791.16" x2="146.30" y2="778.29" stroke="#9e2840" stroke-width="1.3"/>
<line x1="144.50" y1="791.16" x2="148.10" y2="791.16" stroke="#9e2840" stroke-width="1.3"/>
<line x1="144.50" y1="778.29" x2="148.10" y2="778.29" stroke="#9e2840" stroke-width="1.3"/>
<line x1="193.20" y1="791.57" x2="193.20" y2="783.69" stroke="#9e2840" stroke-width="1.3"/>
<line x1="191.40" y1="791.57" x2="195.00" y2="791.57" stroke="#9e2840" stroke-width="1.3"/>
<line x1="191.40" y1="783.69" x2="195.00" y2="783.69" stroke="#9e2840" stroke-width="1.3"/>
<line x1="239.90" y1="777.88" x2="239.90" y2="764.60" stroke="#9e2840" stroke-width="1.3"/>
<line x1="238.10" y1="777.88" x2="241.70" y2="777.88" stroke="#9e2840" stroke-width="1.3"/>
<line x1="238.10" y1="764.60" x2="241.70" y2="764.60" stroke="#9e2840" stroke-width="1.3"/>
<polyline points="99.1,792.2 146.3,784.5 193.2,787.4 239.9,770.8" fill="none" stroke="#9e2840" stroke-width="2"/>
<circle cx="99.10" cy="792.20" r="2.9" fill="#9e2840"/>
<circle cx="146.30" cy="784.52" r="2.9" fill="#9e2840"/>
<circle cx="193.20" cy="787.42" r="2.9" fill="#9e2840"/>
<circle cx="239.90" cy="770.82" r="2.9" fill="#9e2840"/>
<line x1="326.50" y1="668.50" x2="326.50" y2="798.60" stroke="#151515" stroke-width="1.6"/>
<line x1="321.50" y1="673.00" x2="326.50" y2="673.00" stroke="#151515" stroke-width="1.4"/>
<text transform="translate(303.61,676.25) scale(1.0000,1)" font-family='"Liberation Serif", serif' font-size="10.90" fill="#1a1a1a">0.6</text>
<line x1="321.50" y1="714.50" x2="326.50" y2="714.50" stroke="#151515" stroke-width="1.4"/>
<text transform="translate(303.45,717.75) scale(1.0000,1)" font-family='"Liberation Serif", serif' font-size="10.90" fill="#1a1a1a">0.4</text>
<line x1="321.50" y1="756.30" x2="326.50" y2="756.30" stroke="#151515" stroke-width="1.4"/>
<text transform="translate(303.88,759.55) scale(1.0000,1)" font-family='"Liberation Serif", serif' font-size="10.90" fill="#1a1a1a">0.2</text>
<line x1="321.50" y1="797.80" x2="326.50" y2="797.80" stroke="#151515" stroke-width="1.4"/>
<text transform="translate(311.83,801.09) scale(1.0000,1)" font-family='"Liberation Serif", serif' font-size="10.97" fill="#1a1a1a">0</text>
<line x1="325.70" y1="797.80" x2="509.40" y2="797.80" stroke="#151515" stroke-width="1.6"/>
<line x1="350.00" y1="797.80" x2="350.00" y2="802.30" stroke="#151515" stroke-width="1.4"/>
<line x1="396.80" y1="797.80" x2="396.80" y2="802.30" stroke="#151515" stroke-width="1.4"/>
<line x1="443.40" y1="797.80" x2="443.40" y2="802.30" stroke="#151515" stroke-width="1.4"/>
<line x1="490.60" y1="797.80" x2="490.60" y2="802.30" stroke="#151515" stroke-width="1.4"/>
<text transform="translate(330.37,832.94) rotate(-45) scale(0.9875,1)" font-family='"Liberation Sans", sans-serif' font-size="11.50" fill="#1a1a1a">4-8wk</text>
<text transform="translate(367.88,843.24) rotate(-45) scale(0.9566,1)" font-family='"Liberation Sans", sans-serif' font-size="11.50" fill="#1a1a1a">12-18 wk</text>
<text transform="translate(413.92,843.93) rotate(-45) scale(0.9924,1)" font-family='"Liberation Sans", sans-serif' font-size="11.50" fill="#1a1a1a">22-26 wk</text>
<text transform="translate(460.32,843.83) rotate(-45) scale(0.9998,1)" font-family='"Liberation Sans", sans-serif' font-size="11.50" fill="#1a1a1a">48-54 wk</text>
<text transform="translate(346.43,702.40) scale(1.0114,1)" font-family='"Liberation Sans", sans-serif' font-size="10.31" fill="#1a1a1a">p 0.97</text>
<text transform="translate(293.70,785.88) rotate(-90) scale(0.9174,1)" font-family='"Liberation Sans", sans-serif' font-size="14.39" fill="#1a1a1a">No. cells (x10<tspan fill="#9a9a9a" style="stroke:none">^</tspan>9/l)</text>
<text transform="translate(361.22,861.90) scale(0.8927,1)" font-family='"Liberation Sans", sans-serif' font-size="13.95" fill="#1a1a1a">Time post RIC HSCT</text>
<line x1="350.00" y1="787.01" x2="350.00" y2="778.09" stroke="#30528a" stroke-width="1.3"/>
<line x1="348.20" y1="787.01" x2="351.80" y2="787.01" stroke="#30528a" stroke-width="1.3"/>
<line x1="348.20" y1="778.09" x2="351.80" y2="778.09" stroke="#30528a" stroke-width="1.3"/>
<line x1="396.80" y1="795.31" x2="396.80" y2="795.31" stroke="#30528a" stroke-width="1.3"/>
<line x1="395.00" y1="795.31" x2="398.60" y2="795.31" stroke="#30528a" stroke-width="1.3"/>
<line x1="395.00" y1="795.31" x2="398.60" y2="795.31" stroke="#30528a" stroke-width="1.3"/>
<line x1="443.40" y1="779.75" x2="443.40" y2="749.66" stroke="#30528a" stroke-width="1.3"/>
<line x1="441.60" y1="779.75" x2="445.20" y2="779.75" stroke="#30528a" stroke-width="1.3"/>
<line x1="441.60" y1="749.66" x2="445.20" y2="749.66" stroke="#30528a" stroke-width="1.3"/>
<line x1="490.60" y1="782.44" x2="490.60" y2="673.30" stroke="#30528a" stroke-width="1.3"/>
<line x1="488.80" y1="782.44" x2="492.40" y2="782.44" stroke="#30528a" stroke-width="1.3"/>
<line x1="488.80" y1="673.30" x2="492.40" y2="673.30" stroke="#30528a" stroke-width="1.3"/>
<polyline points="350.0,778.1 396.8,795.3 443.4,764.6 490.6,727.9" fill="none" stroke="#30528a" stroke-width="2"/>
<path d="M347.00,781.09L350.00,775.09L353.00,781.09Z" fill="#30528a"/>
<path d="M393.80,798.31L396.80,792.31L399.80,798.31Z" fill="#30528a"/>
<path d="M440.40,767.60L443.40,761.60L446.40,767.60Z" fill="#30528a"/>
<path d="M487.60,730.87L490.60,724.87L493.60,730.87Z" fill="#30528a"/>
<line x1="350.00" y1="786.39" x2="350.00" y2="768.75" stroke="#9e2840" stroke-width="1.3"/>
<line x1="348.20" y1="786.39" x2="351.80" y2="786.39" stroke="#9e2840" stroke-width="1.3"/>
<line x1="348.20" y1="768.75" x2="351.80" y2="768.75" stroke="#9e2840" stroke-width="1.3"/>
<line x1="396.80" y1="793.65" x2="396.80" y2="783.90" stroke="#9e2840" stroke-width="1.3"/>
<line x1="395.00" y1="793.65" x2="398.60" y2="793.65" stroke="#9e2840" stroke-width="1.3"/>
<line x1="395.00" y1="783.90" x2="398.60" y2="783.90" stroke="#9e2840" stroke-width="1.3"/>
<line x1="443.40" y1="789.08" x2="443.40" y2="742.19" stroke="#9e2840" stroke-width="1.3"/>
<line x1="441.60" y1="789.08" x2="445.20" y2="789.08" stroke="#9e2840" stroke-width="1.3"/>
<line x1="441.60" y1="742.19" x2="445.20" y2="742.19" stroke="#9e2840" stroke-width="1.3"/>
<line x1="490.60" y1="789.08" x2="490.60" y2="673.30" stroke="#9e2840" stroke-width="1.3"/>
<line x1="488.80" y1="789.08" x2="492.40" y2="789.08" stroke="#9e2840" stroke-width="1.3"/>
<line x1="488.80" y1="673.30" x2="492.40" y2="673.30" stroke="#9e2840" stroke-width="1.3"/>
<polyline points="350.0,776.6 396.8,789.3 443.4,765.6 490.6,731.4" fill="none" stroke="#9e2840" stroke-width="2"/>
<circle cx="350.00" cy="776.63" r="2.9" fill="#9e2840"/>
<circle cx="396.80" cy="789.29" r="2.9" fill="#9e2840"/>
<circle cx="443.40" cy="765.64" r="2.9" fill="#9e2840"/>
<circle cx="490.60" cy="731.40" r="2.9" fill="#9e2840"/>
<rect x="1" y="1" width="1" height="873" fill="#707070"/>
<rect x="518" y="1" width="1" height="873" fill="#707070"/>
<rect x="0" y="1" width="1" height="873" fill="#000"/>
<rect x="519" y="1" width="1" height="873" fill="#000"/>
<rect x="0" y="1" width="520" height="1" fill="#1e1e1e"/>
<rect x="0" y="873" width="520" height="1" fill="#1e1e1e"/>
<rect x="0" y="0" width="520" height="1" fill="#808080"/>
<rect x="0" y="874" width="520" height="1" fill="#808080"/>
</svg>
</body></html>
